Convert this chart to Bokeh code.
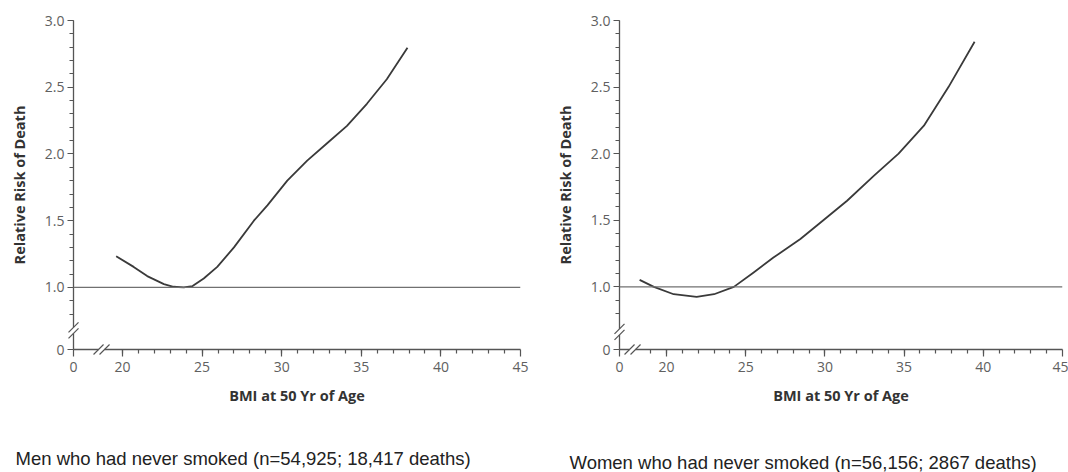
from bokeh.plotting import figure
from bokeh.layouts import row
from bokeh.models import Range1d, FixedTicker, Span
from bokeh.core.properties import value
from bokeh.embed import file_html
from bokeh.resources import INLINE

# ---- data ----
men_bmi = [19.6, 20.7, 21.55, 22.6, 23.2, 23.85, 24.4, 25.1, 25.95, 27.0, 28.25,
           29.1, 30.35, 31.6, 32.85, 34.1, 35.35, 36.6, 37.9]
men_rr = [1.234, 1.154, 1.085, 1.025, 1.005, 1.0, 1.01, 1.067, 1.154, 1.30, 1.50,
          1.615, 1.80, 1.95, 2.08, 2.21, 2.376, 2.56, 2.795]

women_bmi = [18.3, 19.2, 20.45, 21.9, 23.0, 24.25, 25.5, 26.75, 28.45, 29.9, 31.4,
             33.1, 34.65, 36.25, 37.8, 39.45]
women_rr = [1.053, 1.0, 0.945, 0.925, 0.945, 1.0, 1.108, 1.22, 1.36, 1.50, 1.647,
            1.835, 2.0, 2.21, 2.50, 2.84]

x_major = [20, 25, 30, 35, 40, 45]
y_major = [1.0, 1.5, 2.0, 2.5, 3.0]
y_labels = ["1.0", "1.5", "2.0", "2.5", "3.0"]
reference_rr = 1.0

x_label = "BMI at 50 Yr of Age"
y_label = "Relative Risk of Death"
men_caption = "Men who had never smoked (n=54,925; 18,417 deaths)"
women_caption = "Women who had never smoked (n=56,156; 2867 deaths)"

AX = "#555555"
TICK_FONT = "Open Sans"
LABEL_FONT = "Open Sans"


def make_panel(bmi, rr, x0, y0, fw, fh, bl, br, minor_start, xbreak_px, ybreak_px,
               caption, cap_dx, cap_dy):
    p = figure(width=bl + fw + br, height=472, frame_width=fw, frame_height=fh,
               x_range=Range1d(x0, 45), y_range=Range1d(y0, 3.0),
               output_backend="svg", toolbar_location=None,
               min_border_left=bl, min_border_right=br, min_border_top=20,
               min_border_bottom=472 - 20 - fh)
    p.outline_line_color = None
    p.xgrid.visible = False
    p.ygrid.visible = False
    p.background_fill_color = "white"
    p.border_fill_color = "white"

    sx = fw / (45 - x0)
    sy = fh / (3.0 - y0)

    # axes
    xt = [x0] + x_major
    p.xaxis.ticker = FixedTicker(ticks=xt, minor_ticks=list(range(minor_start, 45)))
    ov = {x0: "0"}
    for v in x_major:
        ov[v] = str(v)
    p.xaxis.major_label_overrides = ov
    yt = [y0] + y_major
    ym = [round(0.8 + 0.1 * i, 1) for i in range(23)]
    p.yaxis.ticker = FixedTicker(ticks=yt, minor_ticks=ym)
    yov = {y0: "0"}
    for v, s in zip(y_major, y_labels):
        yov[v] = s
    p.yaxis.major_label_overrides = yov

    for ax in (p.xaxis[0], p.yaxis[0]):
        ax.axis_line_color = AX
        ax.axis_line_width = 1.3
        ax.major_tick_line_color = AX
        ax.minor_tick_line_color = AX
        ax.major_tick_line_width = 1.2
        ax.minor_tick_line_width = 1.2
        ax.major_tick_in = 0
        ax.minor_tick_in = 0
        ax.minor_tick_out = 4
        ax.major_label_text_font = TICK_FONT
        ax.major_label_text_font_size = "14px"
        ax.major_label_text_color = "#606060"
        ax.axis_label_text_font = LABEL_FONT
        ax.axis_label_text_font_style = "bold"
        ax.axis_label_text_font_size = "14.5px"
        ax.axis_label_text_color = "#333333"
    p.xaxis.major_tick_out = 7
    p.yaxis.major_tick_out = 6
    p.xaxis.major_label_standoff = 5
    p.yaxis.major_label_standoff = 3
    p.xaxis.axis_label = x_label
    p.yaxis.axis_label = y_label
    p.xaxis.axis_label_standoff = 11
    p.yaxis.axis_label_standoff = 13

    # reference line and curve
    p.add_layout(Span(location=reference_rr, dimension="width",
                      line_color="#707070", line_width=1.3))
    p.line(bmi, rr, line_color="#3a3a3a", line_width=1.8, line_join="round")

    # axis break marks (white gap + two slashes), drawn above the axes
    dx = 1.0 / sx
    dy = 1.0 / sy
    ybc = 1.0 - ybreak_px * dy
    gap = p.quad(left=[x0 - 7 * dx], right=[x0 + 7 * dx],
                 bottom=[ybc - 3 * dy], top=[ybc + 3 * dy],
                 fill_color="white", line_color=None)
    gap.level = "overlay"
    s1 = p.segment(x0=[x0 - 5 * dx, x0 - 5 * dx], y0=[ybc - 8 * dy, ybc - 2 * dy],
                   x1=[x0 + 5 * dx, x0 + 5 * dx], y1=[ybc + 2 * dy, ybc + 8 * dy],
                   line_color=AX, line_width=1.2)
    s1.level = "overlay"
    xbc = 20 - xbreak_px * dx
    gap2 = p.quad(left=[xbc - 3 * dx], right=[xbc + 3 * dx],
                  bottom=[y0 - 5 * dy], top=[y0 + 5 * dy],
                  fill_color="white", line_color=None)
    gap2.level = "overlay"
    s2 = p.segment(x0=[xbc - 8 * dx, xbc - 2 * dx], y0=[y0 - 5 * dy, y0 - 5 * dy],
                   x1=[xbc + 2 * dx, xbc + 8 * dx], y1=[y0 + 5 * dy, y0 + 5 * dy],
                   line_color=AX, line_width=1.2)
    s2.level = "overlay"

    # caption below the panel
    cap = p.text(x=[x0 + cap_dx * dx], y=[y0 - cap_dy * dy], text=[caption],
                 text_font=value("Liberation Sans"), text_font_size="18.5px",
                 text_color="#222222", text_baseline="middle", text_align="left")
    cap.level = "overlay"
    return p


p1 = make_panel(men_bmi, men_rr, 16.92, 0.535, 447, 329, 73, 20, 20, 21, 43,
                men_caption, -58, 109)
p2 = make_panel(women_bmi, women_rr, 17.03, 0.53, 443, 329, 79, 6, 19, 34, 45,
                women_caption, -50, 113)

layout = row(p1, p2)
open("out.html", "w").write(file_html(layout, INLINE))
